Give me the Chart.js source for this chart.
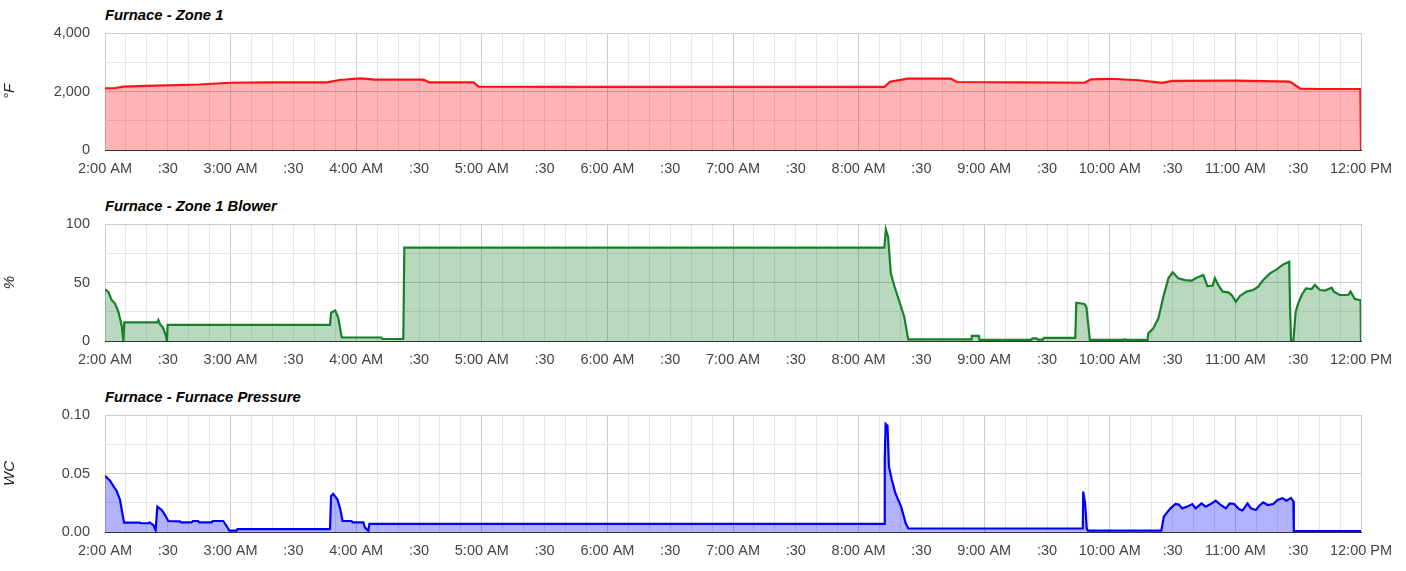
<!DOCTYPE html>
<html>
<head>
<meta charset="utf-8">
<script src="https://cdn.jsdelivr.net/npm/chart.js@4"></script>
<style>
  html, body { margin: 0; padding: 0; background: #fff; }
  body { width: 1406px; height: 571px; position: relative; overflow: hidden; }
  canvas { position: absolute; left: 0; }
  .ttl { position: absolute; left: 105px; font: italic bold 14.8px Arial, "Liberation Sans", sans-serif; line-height: 16px; color: #000; white-space: nowrap; }
</style>
</head>
<body>
<div class="ttl" style="top:7px">Furnace - Zone 1</div>
<div class="ttl" style="top:198px">Furnace - Zone 1 Blower</div>
<div class="ttl" style="top:389px">Furnace - Furnace Pressure</div>
<canvas id="c1" width="1406" height="191" style="top:0px"></canvas>
<canvas id="c2" width="1406" height="191" style="top:191px"></canvas>
<canvas id="c3" width="1406" height="191" style="top:382px"></canvas>
<script>
// ---- tick labels (x axis: minutes after 2:00 AM) ----
const hourLabels = ['2:00 AM','3:00 AM','4:00 AM','5:00 AM','6:00 AM','7:00 AM','8:00 AM','9:00 AM','10:00 AM','11:00 AM','12:00 PM'];
const halfHourLabel = ':30';

// ---- Furnace - Zone 1 (°F) ----
const tempMinutes = [0,5,9,20,45,60,80,106,112,122,129,152,155,176,178.5,240,300,372.3,375,383.5,404,407,440,468,471,480,494,505,510,540,566,571,580,599.7,600];
const tempValues  = [2110,2120,2165,2190,2240,2300,2315,2310,2393,2450,2405,2405,2315,2315,2165,2160,2160,2160,2335,2440,2440,2325,2315,2300,2415,2435,2385,2295,2360,2370,2340,2095,2085,2085,0];

// ---- Furnace - Zone 1 Blower (%) ----
const blowerMinutes = [0,1.6,3.2,4.8,6.4,8,8.8,9.2,25,25.5,26.4,27.5,29,29.6,29.9,107.5,108,110,111.5,113,113.5,132,132.5,142.5,143,372.3,373,374.1,375.4,377.2,380,381.8,383.7,413.7,414,417.4,417.8,442.5,443,445,445.5,448,448.5,463.5,464,467.8,468.8,470.5,486.5,487,488,498,498.4,500.8,503.2,505.6,508,510,512.7,515.9,519.1,521.5,524.7,526.6,529.1,530.2,531.8,533.9,536.6,538.2,540.2,542.2,545.3,548.5,550.9,553.3,556.5,559.7,562.9,565.7,566.1,566.6,567.7,568.8,570,571.7,573.7,576.4,578,580.4,582.8,586,587,589.9,593.9,595,597.1,599.8,600];
const blowerValues  = [44.2,42,35,32,25,12.8,0,16,16,18,14,12,5,0,13.7,13.7,24.2,26,19.4,3.7,3,3,1.7,1.7,79.8,79.8,95.4,89,57.8,46.4,30.8,20.8,1.4,1.4,4.3,4.3,0.9,0.9,2.3,2.3,1.2,1.2,2.6,2.6,32.7,31.6,29.3,0.9,0.9,1.5,0.9,0.9,6.6,10.8,19.4,37.9,53.6,58.7,53.6,52.1,51.6,54.1,56.4,47,47.3,53.6,47.9,42.2,41.6,39.3,33.6,38.5,42.2,43.6,46.4,52.1,57.8,61.2,65.5,67.8,29.3,0,0,25,32.2,39.3,45,44.4,47.9,43.6,43.1,45.6,42.2,39.3,39.3,42.2,35.9,34.8,0];

// ---- Furnace - Furnace Pressure (WC) ----
const pressureMinutes = [0,2.4,4,5.6,7.2,8,9.1,16.7,17,20.7,21.2,23.1,24.2,25,27.1,28.7,30.2,35.8,36.2,41.4,42,44.5,45,51,51.5,56.5,58.1,59.4,62.9,63.3,107.5,108,109,111,112.3,113.5,117.8,118.2,123.4,124.2,125.8,126.3,372.3,372.5,372.9,373.8,374.5,375.9,377.6,380.3,382.5,383.8,467.1,467.3,468.2,469,469.5,504.6,505.8,507.4,509,511.4,513,514.6,517,519.4,521,523.8,525.8,528.2,530.6,533,535.4,537.3,539.4,541.8,543.4,545.8,547.4,549.8,551.4,553.3,555.4,558.1,560.1,562.5,564.4,566.5,567.7,567.9,600];
const pressureValues  = [0.0481,0.0439,0.0393,0.035,0.0274,0.0188,0.008,0.008,0.0075,0.0075,0.0083,0.006,0.0017,0.0217,0.0188,0.0145,0.0094,0.0091,0.0083,0.0083,0.0094,0.0094,0.0083,0.0083,0.0094,0.0094,0.0051,0.0011,0.0011,0.0025,0.0025,0.0308,0.0325,0.0279,0.0202,0.0094,0.0094,0.0083,0.0083,0.0037,0.0011,0.0069,0.0069,0.063,0.0923,0.0908,0.0558,0.0444,0.0331,0.0217,0.0074,0.003,0.003,0.0345,0.0245,0.003,0.0011,0.0011,0.0131,0.0168,0.0202,0.0239,0.0234,0.0202,0.0217,0.0239,0.0202,0.0245,0.0217,0.0239,0.0268,0.0231,0.0202,0.0245,0.0239,0.0194,0.0185,0.0245,0.0202,0.0188,0.0225,0.0254,0.0231,0.0239,0.0274,0.0288,0.0268,0.0291,0.0262,0.0008,0.0008];

const FONT = 'Arial, "Liberation Sans", sans-serif';

function xLabel(v) {
  if (v % 60 === 0) return hourLabels[v / 60];
  if (v % 30 === 0) return halfHourLabel;
  return '';
}

function makeChart(id, mins, vals, cfg) {
  const data = mins.map((m, i) => ({ x: m, y: vals[i] }));
  const isMajorY = v => Math.abs(Math.round(v / cfg.major) * cfg.major - v) < cfg.major * 1e-6;
  new Chart(document.getElementById(id), {
    type: 'line',
    data: { datasets: [{
      data: data,
      borderColor: cfg.line,
      backgroundColor: cfg.fill,
      borderWidth: 2.2,
      pointRadius: 0,
      tension: 0,
      fill: 'origin'
    }]},
    options: {
      responsive: false,
      animation: false,
      devicePixelRatio: 1,
      events: [],
      layout: { padding: { top: 33, right: 45, left: 0, bottom: 0 } },
      plugins: { legend: { display: false }, tooltip: { enabled: false }, title: { display: false } },
      scales: {
        x: {
          type: 'linear', min: 0, max: 600,
          afterFit: s => { s.height = 41; },
          grid: {
            drawTicks: false,
            color: c => (c.tick.value % 60 === 0 ? '#cccccc' : '#e6e6e6'),
            lineWidth: 1
          },
          border: { display: true, color: '#333333', width: 1 },
          ticks: {
            stepSize: 10, autoSkip: false, maxRotation: 0, minRotation: 0,
            padding: 10, color: '#444444',
            font: { family: FONT, size: 14.5 },
            callback: v => xLabel(Math.round(v))
          }
        },
        y: {
          min: 0, max: cfg.max,
          afterFit: s => { s.width = 105; },
          grid: {
            drawTicks: false,
            color: c => (c.tick.value === 0 ? '#333333' : (isMajorY(c.tick.value) ? '#cccccc' : '#e6e6e6')),
            lineWidth: 1
          },
          border: { display: false },
          title: {
            display: true, text: cfg.title, color: '#222222',
            font: { family: FONT, size: 15, style: 'italic' },
            padding: { top: 1, bottom: 1 }
          },
          ticks: {
            stepSize: cfg.step, autoSkip: false, padding: 15, color: '#444444',
            font: { family: FONT, size: 14.5 },
            callback: v => (isMajorY(v) ? cfg.fmt(v) : '')
          }
        }
      }
    }
  });
}

makeChart('c1', tempMinutes, tempValues, {
  max: 4000, step: 1000, major: 2000, title: '°F',
  line: '#ff1111', fill: 'rgba(255,0,0,0.29)',
  fmt: v => Math.round(v).toLocaleString('en-US')
});
makeChart('c2', blowerMinutes, blowerValues, {
  max: 100, step: 25, major: 50, title: '%',
  line: '#188028', fill: 'rgba(24,128,40,0.3)',
  fmt: v => String(Math.round(v))
});
makeChart('c3', pressureMinutes, pressureValues, {
  max: 0.1, step: 0.025, major: 0.05, title: 'WC',
  line: '#0000ff', fill: 'rgba(0,0,255,0.3)',
  fmt: v => v.toFixed(2)
});
</script>
</body>
</html>
